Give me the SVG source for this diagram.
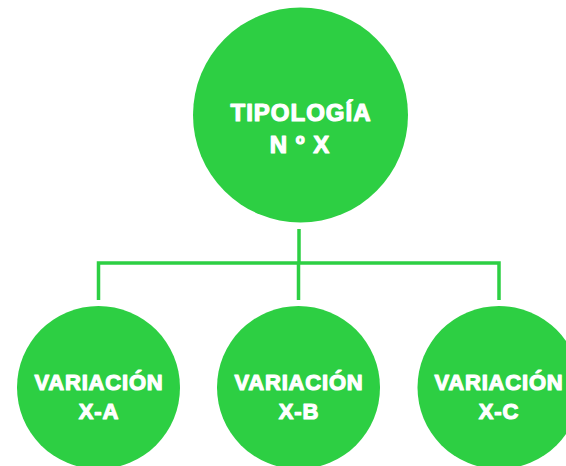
<svg xmlns="http://www.w3.org/2000/svg" width="566" height="466" viewBox="0 0 566 466">
<style>
.n{fill:#2dcf43}
.c{stroke:#2dcf43;stroke-width:3.5;fill:none}
text{font-family:"Liberation Sans",Arial,sans-serif;font-weight:bold;fill:#fff;stroke:#fff;stroke-width:1.2;stroke-linejoin:round;text-anchor:middle}
.t{font-size:24px;letter-spacing:1px}
.v{font-size:22px;letter-spacing:0.8px}
</style>
<rect width="566" height="466" fill="#fff"/>
<g id="connectors">
<path class="c" d="M299 229V263M98.5 300V263H499V300M298.5 263V300"/>
</g>
<g id="tipologia">
<circle class="n" cx="300.5" cy="115" r="107.5"/>
<text class="t" x="301" y="121">TIPOLOGÍA</text>
<text class="t" x="300" y="153">N º X</text>
</g>
<g id="variacion-a">
<circle class="n" cx="98.5" cy="387.5" r="81.5"/>
<text class="v" x="99" y="390">VARIACIÓN</text>
<text class="v" x="99" y="419">X-A</text>
</g>
<g id="variacion-b">
<circle class="n" cx="298.5" cy="387.5" r="81.5"/>
<text class="v" x="299" y="390">VARIACIÓN</text>
<text class="v" x="299" y="419">X-B</text>
</g>
<g id="variacion-c">
<circle class="n" cx="499" cy="387.5" r="81.5"/>
<text class="v" x="499" y="390">VARIACIÓN</text>
<text class="v" x="499" y="419">X-C</text>
</g>
</svg>
